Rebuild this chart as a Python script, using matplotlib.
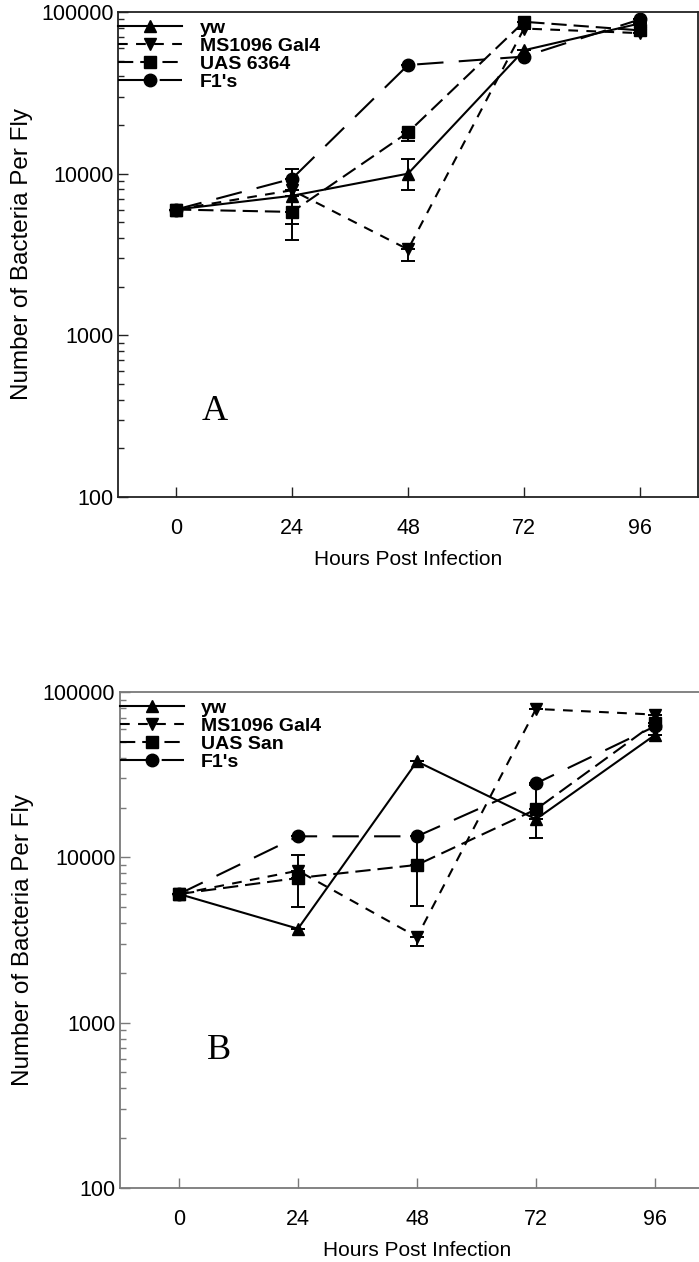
import numpy as np
import matplotlib
matplotlib.use("Agg")
import matplotlib.pyplot as plt
from matplotlib.ticker import FixedLocator, LogLocator, NullFormatter, FixedFormatter

plt.rcParams['font.family'] = ['Liberation Sans', 'DejaVu Sans']
plt.rcParams['lines.scale_dashes'] = False

hours = [0, 24, 48, 72, 96]
x_ticks = [0, 24, 48, 72, 96]
y_ticks = [100, 1000, 10000, 100000]
y_tick_labels = ['100', '1000', '10000', '100000']

# Panel A
a_labels = ['yw', 'MS1096 Gal4', 'UAS 6364', "F1's"]
a_yw = [6000, 7300, 10000, 58000, 85000]
a_ms = [6000, 7900, 3400, 79000, 74000]
a_uas = [6000, 5800, 18000, 87000, 77000]
a_f1 = [6000, 9300, 47000, 53000, 90000]
a_yw_lo = [0, 2400, 2100, 0, 0]
a_yw_hi = [0, 0, 2300, 0, 0]
a_ms_lo = [0, 0, 500, 0, 0]
a_ms_hi = [0, 0, 0, 0, 0]
a_uas_lo = [0, 1900, 2100, 0, 0]
a_uas_hi = [0, 0, 0, 0, 0]
a_f1_lo = [0, 0, 0, 0, 0]
a_f1_hi = [0, 1400, 0, 0, 0]

# Panel B
b_labels = ['yw', 'MS1096 Gal4', 'UAS San', "F1's"]
b_yw = [6000, 3700, 38000, 17000, 55000]
b_ms = [6000, 8300, 3300, 79000, 73000]
b_uas = [6000, 7500, 9000, 19500, 65000]
b_f1 = [6000, 13400, 13400, 28000, 62000]
b_yw_lo = [0, 0, 0, 4000, 0]
b_yw_hi = [0, 0, 0, 0, 0]
b_ms_lo = [0, 0, 400, 0, 0]
b_ms_hi = [0, 2100, 0, 0, 0]
b_uas_lo = [0, 2500, 0, 0, 0]
b_uas_hi = [0, 0, 0, 8000, 0]
b_f1_lo = [0, 0, 8300, 0, 0]
b_f1_hi = [0, 0, 0, 0, 0]

W, H = 699, 1262
fig = plt.figure(figsize=(W / 100, H / 100), dpi=100)

styles = [
    dict(marker='^', dashes=None),
    dict(marker='v', dashes=(7, 6)),
    dict(marker='s', dashes=(11, 5)),
    dict(marker='o', dashes=(19, 11)),
]


def panel(rect, series, errs, labels, letter, letter_xy, frame_color):
    ax = fig.add_axes(rect)
    handles = []
    for (vals, (lo, hi), lab, st) in zip(series, errs, labels, styles):
        kw = dict(color='black', lw=1.5, marker=st['marker'], ms=9,
                  mfc='black', mec='black', label=lab)
        if st['dashes'] is not None:
            kw['ls'] = '--'
            kw['dashes'] = st['dashes']
        cont = ax.errorbar(hours, vals, yerr=[lo, hi], capsize=5, capthick=1.4,
                           elinewidth=1.4, ecolor='black', **kw)
        handles.append(cont.lines[0])
    ax.set_yscale('log')
    ax.set_ylim(100, 100000)
    ax.set_xlim(-12, 108)
    ax.xaxis.set_major_locator(FixedLocator(x_ticks))
    ax.set_xticklabels([str(t) for t in x_ticks])
    ax.yaxis.set_major_locator(FixedLocator(y_ticks))
    ax.yaxis.set_major_formatter(FixedFormatter(y_tick_labels))
    ax.yaxis.set_minor_locator(LogLocator(base=10, subs=np.arange(2, 10)))
    ax.yaxis.set_minor_formatter(NullFormatter())
    ax.tick_params(axis='both', which='major', direction='in', length=7,
                   width=1.0, labelsize=15.5, color=frame_color)
    ax.tick_params(axis='x', pad=15)
    ax.tick_params(axis='y', pad=3)
    ax.tick_params(axis='y', which='minor', direction='in', length=4,
                   width=1.0, color=frame_color)
    ax.tick_params(top=False, right=False, which='both')
    for sp in ax.spines.values():
        sp.set_color(frame_color)
        sp.set_linewidth(1.3)
    ax.set_xlabel('Hours Post Infection', fontsize=15, labelpad=8)
    ax.set_ylabel('Number of Bacteria Per Fly', fontsize=17.5, labelpad=6)
    ax.legend(handles=handles, labels=labels, loc='upper left', frameon=False,
              bbox_to_anchor=(0.0, 1.0 - 7.0 / (rect[3] * H)),
              borderaxespad=0.0, borderpad=0.0, labelspacing=0.02,
              handlelength=3.3, handletextpad=0.9,
              prop={'family': 'Liberation Sans', 'weight': 'bold', 'size': 14})
    ax.text(letter_xy[0], letter_xy[1], letter, family='Liberation Serif',
            fontsize=26, ha='center', va='center', transform=ax.transData)
    return ax


panel([118 / W, 1 - 497 / H, 580 / W, 485 / H],
      [a_yw, a_ms, a_uas, a_f1],
      [(a_yw_lo, a_yw_hi), (a_ms_lo, a_ms_hi), (a_uas_lo, a_uas_hi), (a_f1_lo, a_f1_hi)],
      a_labels, 'A', (8, 340), '#222222')

panel([119.5 / W, 1 - 1188 / H, 595 / W, 496 / H],
      [b_yw, b_ms, b_uas, b_f1],
      [(b_yw_lo, b_yw_hi), (b_ms_lo, b_ms_hi), (b_uas_lo, b_uas_hi), (b_f1_lo, b_f1_hi)],
      b_labels, 'B', (8, 680), '#7a7a7a')

fig.savefig('out.png', dpi=100)
